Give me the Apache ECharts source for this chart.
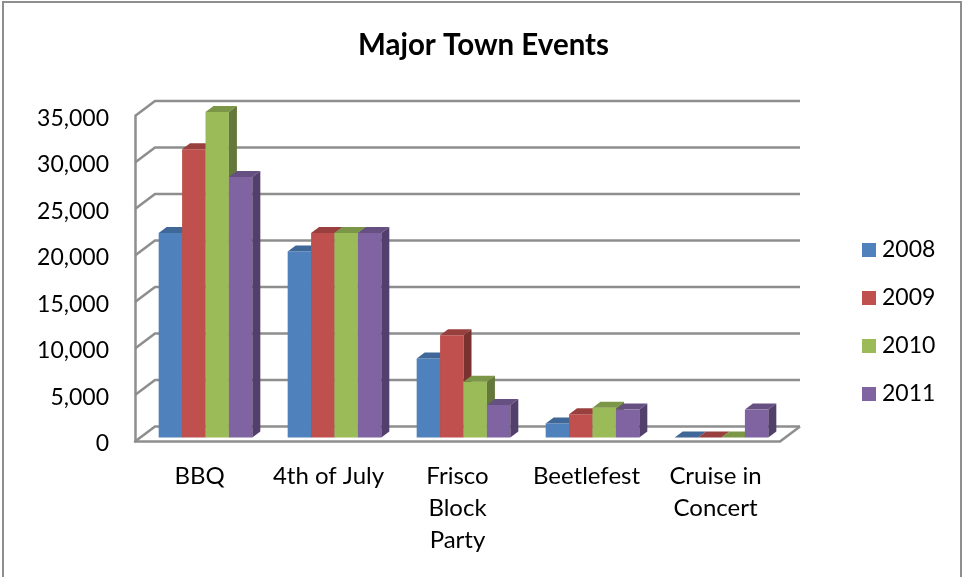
<!DOCTYPE html>
<html>
<head>
<meta charset="utf-8">
<style>html,body{margin:0;padding:0;background:#fff}#c{width:963px;height:577px}</style>
<script src="https://cdn.jsdelivr.net/npm/echarts@6/dist/echarts.min.js"></script>
</head>
<body>
<div id="c"></div>
<script>
const categories = ["BBQ", "4th of July", "Frisco\nBlock\nParty", "Beetlefest", "Cruise in\nConcert"];
const s2008 = [22000, 20000, 8500, 1500, 0];
const s2009 = [31000, 22000, 11000, 2500, 0];
const s2010 = [35000, 22000, 6000, 3200, 0];
const s2011 = [28000, 22000, 3500, 3000, 3000];
const yTicks = [0, 5000, 10000, 15000, 20000, 25000, 30000, 35000];
const seriesNames = ["2008", "2009", "2010", "2011"];
const seriesValues = [s2008, s2009, s2010, s2011];
const faceColors = ["#4F81BD", "#C0504D", "#9BBB59", "#8064A2"];
const topColors = ["#3F6797", "#993F3D", "#7C9647", "#664F81"];
const sideColors = ["#345479", "#7A3230", "#63783A", "#533F6C"];
const GRID = "#8E8E8E";
const FONT = "Lato, 'Open Sans', sans-serif";

const chart = echarts.init(document.getElementById("c"));

function wallItem(params, api) {
  const p = api.coord([0, api.value(1)]);
  const band = api.size([1, 0])[0];
  const xL = p[0] - band / 2;
  const xR = xL + band * categories.length;
  const style = { stroke: GRID, lineWidth: 2.5, fill: null };
  const children = [{
    type: "polyline",
    shape: { points: [[xL, p[1]], [xL + 20, p[1] - 15], [xR + 20, p[1] - 15]] },
    style
  }];
  if (api.value(1) === 0) {
    children.push({
      type: "polyline",
      shape: { points: [[xR, p[1]], [xR + 20, p[1] - 15]] },
      style
    });
  }
  return { type: "group", children };
}

function barItem(k) {
  return function (params, api) {
    const top = api.coord([api.value(0), api.value(1)]);
    const base = api.coord([api.value(0), 0]);
    const band = api.size([1, 0])[0];
    const bw = band * 0.1815;
    const x0 = top[0] - 2 * bw + k * bw + 6;
    const x1 = x0 + bw;
    const yT = top[1] - 4;
    const yB = base[1] - 4;
    const dx = 8, dy = -6;
    return {
      type: "group",
      children: [
        { type: "rect", shape: { x: x0, y: yT, width: bw, height: yB - yT }, style: { fill: faceColors[k] } },
        { type: "polygon", shape: { points: [[x0, yT], [x0 + dx, yT + dy], [x1 + dx, yT + dy], [x1, yT]] }, style: { fill: topColors[k] } },
        { type: "polygon", shape: { points: [[x1, yT], [x1 + dx, yT + dy], [x1 + dx, yB + dy], [x1, yB]] }, style: { fill: sideColors[k] } }
      ]
    };
  };
}

const series = [{
  type: "custom",
  name: "walls",
  silent: true,
  z: 1,
  renderItem: wallItem,
  encode: { x: 0, y: 1 },
  data: yTicks.map(t => [0, t])
}];
seriesNames.forEach((name, k) => {
  series.push({
    type: "custom",
    name,
    z: 2 + k,
    itemStyle: { color: faceColors[k] },
    renderItem: barItem(k),
    encode: { x: 0, y: 1 },
    data: seriesValues[k].map((v, i) => [i, v])
  });
});

chart.setOption({
  animation: false,
  backgroundColor: "#fff",
  title: {
    text: "Major Town Events",
    left: 478.5,
    top: 25,
    textAlign: "center",
    textStyle: { fontFamily: FONT, fontSize: 29.5, fontWeight: "bold", color: "#000" }
  },
  legend: {
    data: seriesNames,
    orient: "vertical",
    left: 857,
    top: 232,
    icon: "rect",
    itemWidth: 14,
    itemHeight: 14,
    itemGap: 22,
    selectedMode: false,
    textStyle: { fontFamily: FONT, fontSize: 23, color: "#000", padding: [0, 0, 0, 1], lineHeight: 26 }
  },
  grid: { left: 135, top: 116, width: 645, height: 325.5 },
  xAxis: {
    type: "category",
    data: categories,
    axisLine: { show: true, lineStyle: { color: GRID, width: 2.5 } },
    axisTick: { show: false },
    axisLabel: { interval: 0, margin: 19, fontFamily: FONT, fontSize: 24, color: "#000", lineHeight: 32 }
  },
  yAxis: {
    type: "value",
    min: 0,
    max: 35000,
    interval: 5000,
    axisLine: { show: true, lineStyle: { color: GRID, width: 2.5 } },
    axisTick: { show: false },
    splitLine: { show: false },
    axisLabel: {
      margin: 26,
      formatter: v => "{t|" + v.toLocaleString("en-US") + "}",
      rich: { t: { fontFamily: FONT, fontSize: 23, color: "#000", padding: [5, 0, 0, 0] } }
    }
  },
  graphic: [{
    type: "rect",
    silent: true,
    z: 100,
    shape: { x: 3, y: 2, width: 958, height: 600 },
    style: { fill: null, stroke: GRID, lineWidth: 2 }
  }],
  series
});
</script>
</body>
</html>
